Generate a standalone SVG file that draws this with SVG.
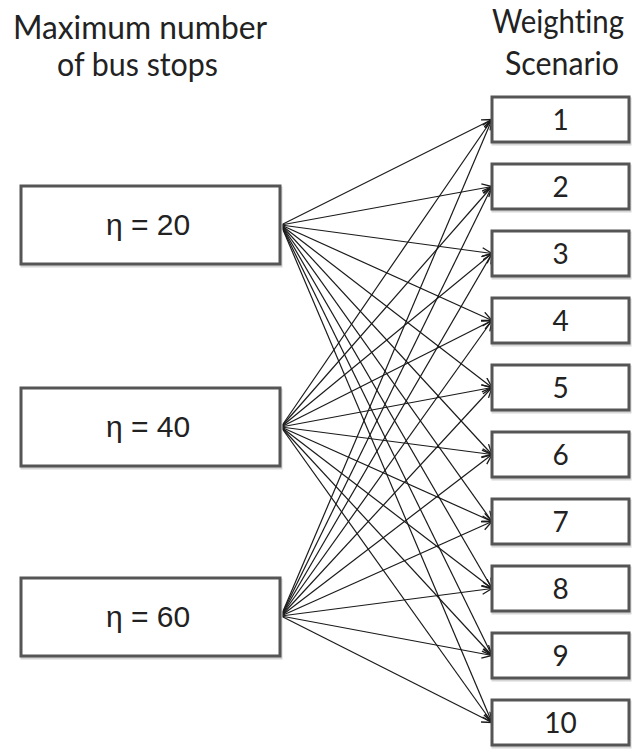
<svg xmlns="http://www.w3.org/2000/svg" width="640" height="749" viewBox="0 0 640 749">
  <style>
    .head { font-family: Lato, "Open Sans", sans-serif; font-size: 33px; fill: #222; font-variant-ligatures: none; }
    .box { fill: #fff; stroke: #555; stroke-width: 3; }
    .shadow { fill: none; stroke: #d6d6d6; stroke-width: 3; }
    .eta { font-family: "Liberation Sans", Arial, sans-serif; font-size: 30px; fill: #222; text-anchor: middle; }
    .num { font-family: Lato, "Open Sans", sans-serif; font-size: 28px; fill: #222; text-anchor: middle; }
    .edge { stroke: #1a1a1a; stroke-width: 1.2; fill: none; marker-end: url(#open); }
  </style>
  <defs>
    <marker id="open" markerUnits="userSpaceOnUse" markerWidth="14" markerHeight="12" refX="11" refY="5" orient="auto">
      <path d="M1,0.5 L11,5 L1,9.5" fill="none" stroke="#1a1a1a" stroke-width="1.3"/>
    </marker>
  </defs>
  <rect width="640" height="749" fill="#fff"/>

  <!-- column headings -->
  <g id="heading-left">
    <text class="head" x="13" y="39" textLength="254" lengthAdjust="spacingAndGlyphs">Maximum number</text>
    <text class="head" x="57" y="76" textLength="161" lengthAdjust="spacingAndGlyphs">of bus stops</text>
  </g>
  <g id="heading-right">
    <text class="head" x="492" y="33" font-size="30" textLength="132" lengthAdjust="spacingAndGlyphs">Weighting</text>
    <text class="head" x="505" y="75" textLength="114" lengthAdjust="spacingAndGlyphs">Scenario</text>
  </g>

  <!-- connectors: every eta value to every weighting scenario -->
  <g id="connectors">
    <line class="edge" x1="281" y1="225" x2="492" y2="119.5"/>
    <line class="edge" x1="281" y1="225" x2="492" y2="186.5"/>
    <line class="edge" x1="281" y1="225" x2="492" y2="253.5"/>
    <line class="edge" x1="281" y1="225" x2="492" y2="320.5"/>
    <line class="edge" x1="281" y1="225" x2="492" y2="387.5"/>
    <line class="edge" x1="281" y1="225" x2="492" y2="454.5"/>
    <line class="edge" x1="281" y1="225" x2="492" y2="521.5"/>
    <line class="edge" x1="281" y1="225" x2="492" y2="588.5"/>
    <line class="edge" x1="281" y1="225" x2="492" y2="655.5"/>
    <line class="edge" x1="281" y1="225" x2="492" y2="722.5"/>

    <line class="edge" x1="281" y1="427" x2="492" y2="119.5"/>
    <line class="edge" x1="281" y1="427" x2="492" y2="186.5"/>
    <line class="edge" x1="281" y1="427" x2="492" y2="253.5"/>
    <line class="edge" x1="281" y1="427" x2="492" y2="320.5"/>
    <line class="edge" x1="281" y1="427" x2="492" y2="387.5"/>
    <line class="edge" x1="281" y1="427" x2="492" y2="454.5"/>
    <line class="edge" x1="281" y1="427" x2="492" y2="521.5"/>
    <line class="edge" x1="281" y1="427" x2="492" y2="588.5"/>
    <line class="edge" x1="281" y1="427" x2="492" y2="655.5"/>
    <line class="edge" x1="281" y1="427" x2="492" y2="722.5"/>

    <line class="edge" x1="281" y1="616" x2="492" y2="119.5"/>
    <line class="edge" x1="281" y1="616" x2="492" y2="186.5"/>
    <line class="edge" x1="281" y1="616" x2="492" y2="253.5"/>
    <line class="edge" x1="281" y1="616" x2="492" y2="320.5"/>
    <line class="edge" x1="281" y1="616" x2="492" y2="387.5"/>
    <line class="edge" x1="281" y1="616" x2="492" y2="454.5"/>
    <line class="edge" x1="281" y1="616" x2="492" y2="521.5"/>
    <line class="edge" x1="281" y1="616" x2="492" y2="588.5"/>
    <line class="edge" x1="281" y1="616" x2="492" y2="655.5"/>
    <line class="edge" x1="281" y1="616" x2="492" y2="722.5"/>
  </g>

  <!-- eta boxes -->
  <g id="eta-20">
    <rect class="shadow" x="22" y="188" width="259" height="78"/>
    <rect class="box" x="21" y="186" width="259" height="78"/>
    <text class="eta" x="148" y="235">η = 20</text>
  </g>
  <g id="eta-40">
    <rect class="shadow" x="22" y="390" width="259" height="78"/>
    <rect class="box" x="21" y="388" width="259" height="78"/>
    <text class="eta" x="148" y="437">η = 40</text>
  </g>
  <g id="eta-60">
    <rect class="shadow" x="22" y="580" width="259" height="78"/>
    <rect class="box" x="21" y="578" width="259" height="78"/>
    <text class="eta" x="148" y="627">η = 60</text>
  </g>

  <!-- weighting scenario boxes -->
  <g id="scenario-1">
    <rect class="shadow" x="493" y="99" width="137" height="45"/>
    <rect class="box" x="492" y="97" width="137" height="45"/>
    <text class="num" x="560.5" y="130">1</text>
  </g>
  <g id="scenario-2">
    <rect class="shadow" x="493" y="166" width="137" height="45"/>
    <rect class="box" x="492" y="164" width="137" height="45"/>
    <text class="num" x="560.5" y="197">2</text>
  </g>
  <g id="scenario-3">
    <rect class="shadow" x="493" y="233" width="137" height="45"/>
    <rect class="box" x="492" y="231" width="137" height="45"/>
    <text class="num" x="560.5" y="264">3</text>
  </g>
  <g id="scenario-4">
    <rect class="shadow" x="493" y="300" width="137" height="45"/>
    <rect class="box" x="492" y="298" width="137" height="45"/>
    <text class="num" x="560.5" y="331">4</text>
  </g>
  <g id="scenario-5">
    <rect class="shadow" x="493" y="367" width="137" height="45"/>
    <rect class="box" x="492" y="365" width="137" height="45"/>
    <text class="num" x="560.5" y="398">5</text>
  </g>
  <g id="scenario-6">
    <rect class="shadow" x="493" y="434" width="137" height="45"/>
    <rect class="box" x="492" y="432" width="137" height="45"/>
    <text class="num" x="560.5" y="465">6</text>
  </g>
  <g id="scenario-7">
    <rect class="shadow" x="493" y="501" width="137" height="45"/>
    <rect class="box" x="492" y="499" width="137" height="45"/>
    <text class="num" x="560.5" y="532">7</text>
  </g>
  <g id="scenario-8">
    <rect class="shadow" x="493" y="568" width="137" height="45"/>
    <rect class="box" x="492" y="566" width="137" height="45"/>
    <text class="num" x="560.5" y="599">8</text>
  </g>
  <g id="scenario-9">
    <rect class="shadow" x="493" y="635" width="137" height="45"/>
    <rect class="box" x="492" y="633" width="137" height="45"/>
    <text class="num" x="560.5" y="666">9</text>
  </g>
  <g id="scenario-10">
    <rect class="shadow" x="493" y="702" width="137" height="45"/>
    <rect class="box" x="492" y="700" width="137" height="45"/>
    <text class="num" x="560.5" y="733">10</text>
  </g>
</svg>
